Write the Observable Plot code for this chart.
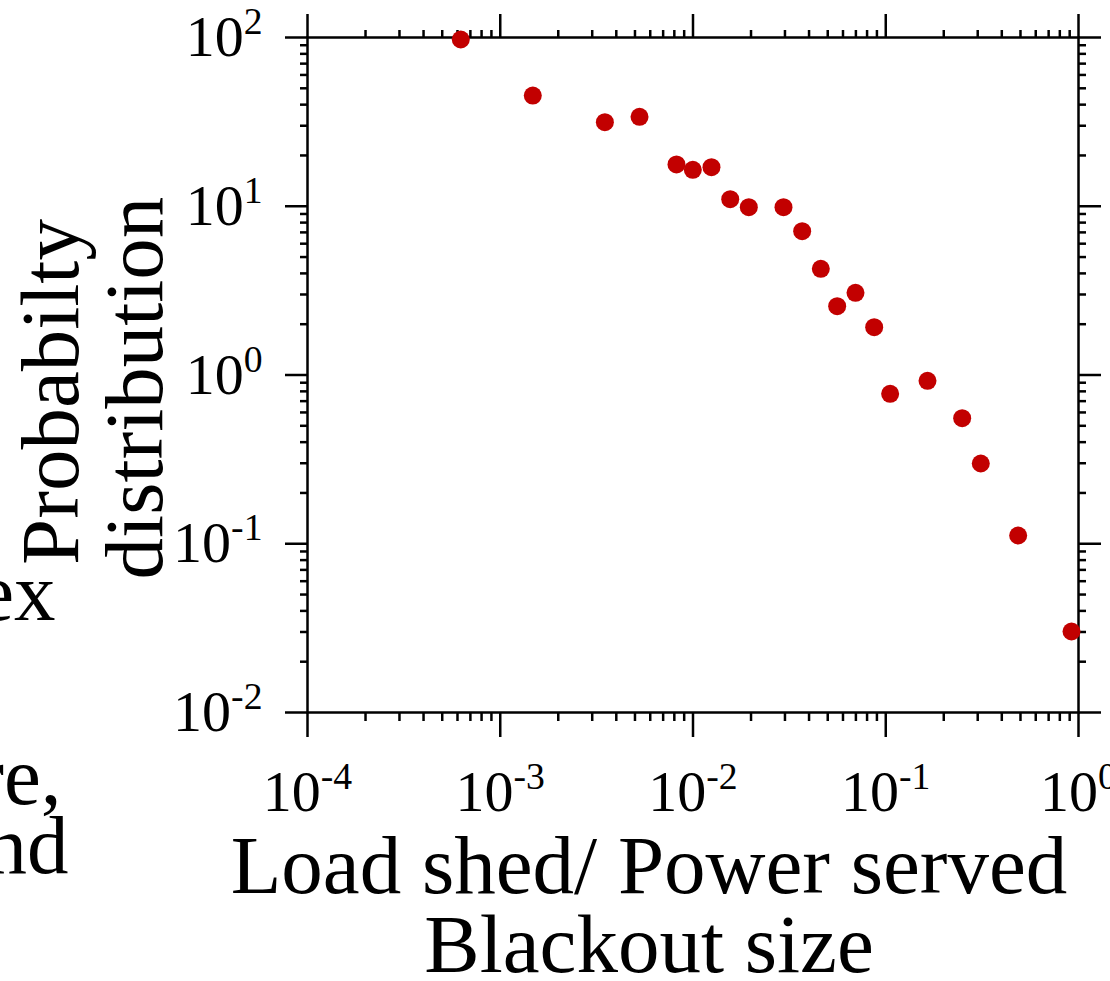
<!DOCTYPE html>
<html>
<head>
<meta charset="utf-8">
<script src="https://cdn.jsdelivr.net/npm/d3@7"></script>
<script src="https://cdn.jsdelivr.net/npm/@observablehq/plot@0.6"></script>
<style>
html, body { margin: 0; padding: 0; background: #fff; }
#chart { width: 1110px; height: 981px; overflow: hidden; }
</style>
</head>
<body>
<div id="chart"></div>
<script>
// ---- data ----
const blackoutSize = [6.24e-4, 1.475e-3, 3.49e-3, 5.28e-3, 8.21e-3, 9.98e-3, 1.247e-2, 1.56e-2, 1.948e-2, 2.948e-2, 3.685e-2, 4.603e-2, 5.598e-2, 6.966e-2, 8.71e-2, 0.1054, 0.1647, 0.2492, 0.3112, 0.4864, 0.920];
const probability  = [97.3, 45.3, 31.5, 33.9, 17.68, 16.44, 17.03, 11.01, 9.87, 9.87, 7.114, 4.258, 2.557, 3.07, 1.92, 0.774, 0.924, 0.5546, 0.2989, 0.1119, 0.0302];

const xDecades = [1e-4, 1e-3, 1e-2, 1e-1, 1];
const xTickLabels = ["10^-4", "10^-3", "10^-2", "10^-1", "10^0"];
const yDecades = [1e-2, 1e-1, 1, 10, 100];
const yTickLabels = ["10^-2", "10^-1", "10^0", "10^1", "10^2"];
const minorMultipliers = [2, 3, 4, 5, 6, 7, 8, 9];

const xTitleLines = ["Load shed/ Power served", "Blackout size"];
const yTitleLines = ["Probabilty", "distribution"];
const leftFragments = ["ex", "re,", "nd"];

// ---- derived tables ----
const points = blackoutSize.map((x, i) => ({x, y: probability[i]}));
const xMinor = xDecades.slice(0, -1).flatMap(d => minorMultipliers.map(m => d * m));
const yMinor = yDecades.slice(0, -1).flatMap(d => minorMultipliers.map(m => d * m));
const xLab = d => xTickLabels[xDecades.indexOf(d)];
const yLab = d => yTickLabels[yDecades.indexOf(d)];

const FONT = "'Liberation Serif', 'Times New Roman', serif";
const SW = 2.5;
const TITLE = 83;
const TICKFONT = 58;

const chart = Plot.plot({
  width: 1110,
  height: 981,
  marginLeft: 307,
  marginRight: 32,
  marginTop: 37,
  marginBottom: 269,
  style: {fontFamily: FONT, background: "white", color: "black", overflow: "visible"},
  x: {type: "log", domain: [1e-4, 1]},
  y: {type: "log", domain: [1e-2, 100]},
  marks: [
    Plot.frame({stroke: "black", strokeWidth: SW}),
    // minor ticks
    Plot.axisX(xMinor, {anchor: "bottom", tickSize: 9, strokeWidth: SW, tickFormat: () => null, label: null}),
    Plot.axisX(xMinor, {anchor: "top", tickSize: 8, strokeWidth: SW, tickFormat: () => null, label: null}),
    Plot.axisY(yMinor, {anchor: "left", tickSize: 7, strokeWidth: SW, tickFormat: () => null, label: null}),
    Plot.axisY(yMinor, {anchor: "right", tickSize: 7, strokeWidth: SW, tickFormat: () => null, label: null}),
    // major ticks
    Plot.axisX(xDecades, {anchor: "bottom", tickSize: 25, tickPadding: 32, strokeWidth: SW, fontSize: TICKFONT, tickFormat: xLab, label: null}),
    Plot.axisX(xDecades, {anchor: "top", tickSize: 24, strokeWidth: SW, tickFormat: () => null, label: null}),
    Plot.axisY(yDecades, {anchor: "left", tickSize: 22, tickPadding: 23, strokeWidth: SW, fontSize: TICKFONT, tickFormat: yLab, label: null}),
    Plot.axisY(yDecades, {anchor: "right", tickSize: 22, strokeWidth: SW, tickFormat: () => null, label: null}),
    // data
    Plot.dot(points, {x: "x", y: "y", r: 9, fill: "#c20000", stroke: "none"}),
    // x title (two lines)
    Plot.text([xTitleLines[0]], {frameAnchor: "bottom", text: d => d, fontSize: TITLE, textAnchor: "middle", lineAnchor: "middle", dx: -44, dy: 154}),
    Plot.text([xTitleLines[1]], {frameAnchor: "bottom", text: d => d, fontSize: TITLE, textAnchor: "middle", lineAnchor: "middle", dx: -44, dy: 233}),
    // y title (two lines, rotated)
    Plot.text([yTitleLines[0]], {frameAnchor: "left", text: d => d, fontSize: TITLE, textAnchor: "middle", lineAnchor: "middle", rotate: -90, dx: -256, dy: 17}),
    Plot.text([yTitleLines[1]], {frameAnchor: "left", text: d => d, fontSize: TITLE, textAnchor: "middle", lineAnchor: "middle", rotate: -90, dx: -172, dy: 13}),
    // cut-off words of the neighbouring figure at the left edge
    Plot.text([leftFragments[0]], {frameAnchor: "top-left", text: d => d, fontSize: TITLE, textAnchor: "end", lineAnchor: "middle", dx: -252, dy: 556}),
    Plot.text([leftFragments[1]], {frameAnchor: "top-left", text: d => d, fontSize: TITLE, textAnchor: "end", lineAnchor: "middle", dx: -246, dy: 740}),
    Plot.text([leftFragments[2]], {frameAnchor: "top-left", text: d => d, fontSize: TITLE, textAnchor: "end", lineAnchor: "middle", dx: -239, dy: 809})
  ]
});

// turn "10^-4" into 10 with a superscript
chart.querySelectorAll("text").forEach(t => {
  const m = /^10\^(.+)$/.exec(t.textContent);
  if (!m) return;
  t.textContent = "10";
  const ts = document.createElementNS("http://www.w3.org/2000/svg", "tspan");
  ts.setAttribute("font-size", "0.65em");
  ts.setAttribute("dy", "-0.58em");
  ts.textContent = m[1];
  t.appendChild(ts);
});

document.getElementById("chart").appendChild(chart);
</script>
</body>
</html>
